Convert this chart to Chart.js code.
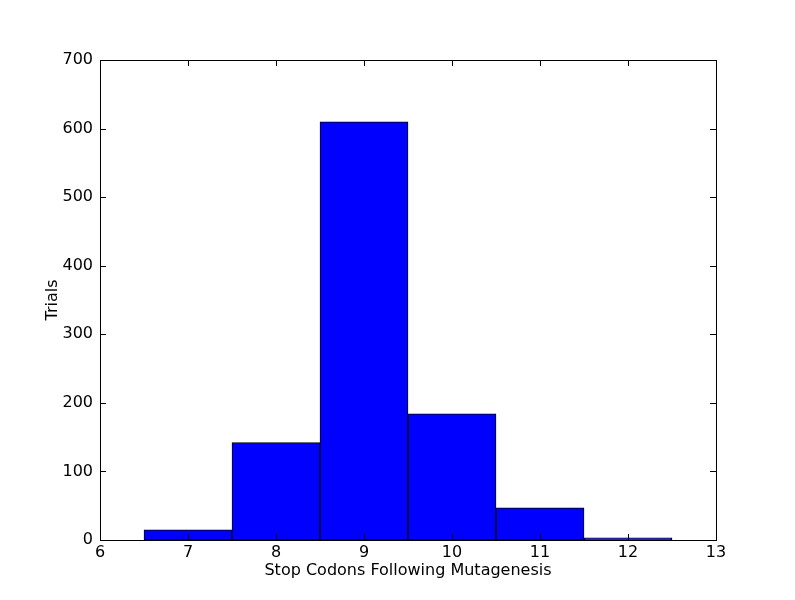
<!DOCTYPE html>
<html>
<head>
<meta charset="utf-8">
<script src="https://cdn.jsdelivr.net/npm/chart.js@4/dist/chart.umd.min.js"></script>
<style>
  html, body { margin: 0; padding: 0; background: #fff; }
  #wrap { width: 795px; height: 600px; }
</style>
</head>
<body>
<div id="wrap"><canvas id="histChart" width="795" height="600"></canvas></div>
<script>
// histogram bins (stop codon count) and number of trials in each
const stopCodons = [7, 8, 9, 10, 11, 12];
const trials = [15, 142, 610, 184, 47, 3];
const xTicks = [6, 7, 8, 9, 10, 11, 12, 13];
const yTicks = [0, 100, 200, 300, 400, 500, 600, 700];

const font = { family: 'DejaVu Sans', size: 16 };

// matplotlib-style frame with inward ticks on all four sides
const framePlugin = {
    id: 'frame',
    afterDraw(chart) {
        const ctx = chart.ctx;
        const area = chart.chartArea;
        const xs = chart.scales.x;
        const ys = chart.scales.y;
        const len = 6;
        ctx.save();
        ctx.strokeStyle = '#000';
        ctx.lineWidth = 1;
        ctx.strokeRect(area.left + 0.5, area.top + 0.5, area.right - area.left, area.bottom - area.top);
        ctx.beginPath();
        xTicks.forEach(v => {
            const px = Math.round(xs.getPixelForValue(v)) + 0.5;
            ctx.moveTo(px, area.bottom);
            ctx.lineTo(px, area.bottom - len);
            ctx.moveTo(px, area.top);
            ctx.lineTo(px, area.top + len);
        });
        yTicks.forEach(v => {
            const py = Math.round(ys.getPixelForValue(v)) + 0.5;
            ctx.moveTo(area.left, py);
            ctx.lineTo(area.left + len, py);
            ctx.moveTo(area.right, py);
            ctx.lineTo(area.right - len, py);
        });
        ctx.stroke();
        ctx.restore();
    }
};

const ctx = document.getElementById('histChart').getContext('2d');
new Chart(ctx, {
    type: 'bar',
    data: {
        datasets: [{
            data: stopCodons.map((c, i) => ({ x: c, y: trials[i] })),
            backgroundColor: '#0000ff',
            borderColor: '#000',
            borderWidth: 1,
            borderSkipped: false,
            barPercentage: 1,
            categoryPercentage: 1
        }]
    },
    options: {
        responsive: false,
        animation: false,
        layout: { padding: { top: 60, right: 79, left: 43, bottom: 20 } },
        plugins: {
            legend: { display: false },
            tooltip: { enabled: false }
        },
        scales: {
            x: {
                type: 'linear',
                min: 6,
                max: 13,
                offset: false,
                grid: { display: false, drawTicks: false },
                border: { display: false },
                ticks: { stepSize: 1, color: '#000', font: font, padding: 3 },
                title: {
                    display: true,
                    text: 'Stop Codons Following Mutagenesis',
                    color: '#000',
                    font: font,
                    padding: { top: 0, bottom: 0 }
                },
                afterFit(scale) { scale.height = 40; }
            },
            y: {
                min: 0,
                max: 700,
                grid: { display: false, drawTicks: false },
                border: { display: false },
                ticks: { stepSize: 100, color: '#000', font: font, padding: 7 },
                title: {
                    display: true,
                    text: 'Trials',
                    color: '#000',
                    font: font,
                    padding: { top: 0, bottom: 0 }
                },
                afterFit(scale) { scale.width = 57; }
            }
        }
    },
    plugins: [framePlugin]
});
</script>
</body>
</html>
